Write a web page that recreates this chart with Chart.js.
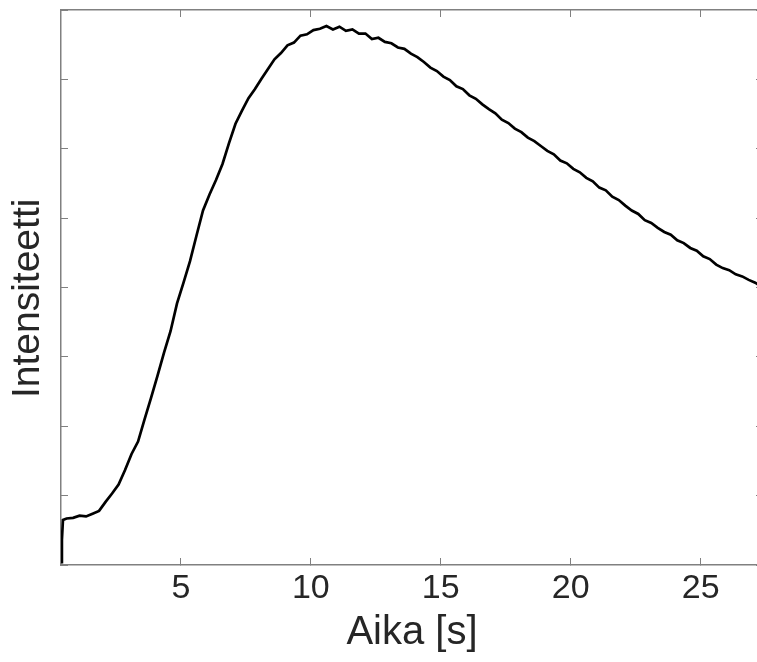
<!DOCTYPE html>
<html>
<head>
<meta charset="utf-8">
<script src="https://cdn.jsdelivr.net/npm/chart.js@4.4.0/dist/chart.umd.min.js"></script>
<style>
html, body { margin: 0; padding: 0; background: #fff; overflow: hidden; }
#wrap { width: 770px; height: 662px; }
</style>
</head>
<body>
<div id="wrap"><canvas id="chart" width="770" height="662"></canvas></div>
<script>
// ── DATA ──
const timeS = [
    0.385, 0.42, 0.46, 0.6, 0.85, 1.1, 1.35, 1.6, 1.85, 2.1, 2.35, 2.6, 2.85,
    3.1, 3.35, 3.6, 3.85, 4.1, 4.35, 4.6, 4.85, 5.1, 5.35, 5.6, 5.85,
    6.1, 6.35, 6.6, 6.85, 7.1, 7.35, 7.6, 7.85, 8.1, 8.35, 8.6, 8.85,
    9.1, 9.35, 9.6, 9.85, 10.1, 10.35, 10.6, 10.85, 11.1, 11.35, 11.6, 11.85,
    12.1, 12.35, 12.6, 12.85, 13.1, 13.35, 13.6, 13.85, 14.1, 14.35, 14.6, 14.85,
    15.1, 15.35, 15.6, 15.85, 16.1, 16.35, 16.6, 16.85, 17.1, 17.35, 17.6, 17.85,
    18.1, 18.35, 18.6, 18.85, 19.1, 19.35, 19.6, 19.85, 20.1, 20.35, 20.6, 20.85,
    21.1, 21.35, 21.6, 21.85, 22.1, 22.35, 22.6, 22.85, 23.1, 23.35, 23.6, 23.85,
    24.1, 24.35, 24.6, 24.85, 25.1, 25.35, 25.6, 25.85, 26.1, 26.35, 26.6, 26.85,
    27.1, 27.35
];
const intensity = [
    0.04, 0.36, 0.65, 0.67, 0.68, 0.71, 0.70, 0.74, 0.78, 0.91, 1.03, 1.16, 1.37,
    1.60, 1.78, 2.10, 2.41, 2.73, 3.06, 3.37, 3.77, 4.07, 4.38, 4.75, 5.11,
    5.34, 5.55, 5.78, 6.08, 6.36, 6.55, 6.73, 6.86, 7.01, 7.15, 7.29, 7.38,
    7.49, 7.53, 7.63, 7.65, 7.71, 7.73, 7.77, 7.72, 7.76, 7.70, 7.72, 7.66,
    7.66, 7.58, 7.60, 7.54, 7.52, 7.46, 7.44, 7.37, 7.32, 7.25, 7.17, 7.12,
    7.04, 6.99, 6.90, 6.86, 6.77, 6.72, 6.64, 6.57, 6.51, 6.42, 6.37, 6.29,
    6.24, 6.16, 6.11, 6.04, 5.97, 5.92, 5.83, 5.79, 5.71, 5.66, 5.58, 5.53,
    5.44, 5.40, 5.31, 5.26, 5.18, 5.11, 5.06, 4.97, 4.93, 4.86, 4.80, 4.76,
    4.68, 4.64, 4.57, 4.53, 4.45, 4.41, 4.33, 4.28, 4.25, 4.19, 4.16, 4.11,
    4.07, 4.01
];
const xTicks = [5, 10, 15, 20, 25];
const xRange = [0.385, 27.4];
const yRange = [0, 8];

const FONT = "'Liberation Sans', Arial, Helvetica, sans-serif";
const TEXT = "#262626";
const AXIS = "#808080";

const points = timeS.map((t, i) => ({ x: t, y: intensity[i] }));

// ── AXES ──
function fixedTicks(scale) {
    scale.ticks = xTicks.map(v => ({ value: v }));
}
const tickGrid = { drawOnChartArea: false, drawTicks: true, tickLength: -7, color: AXIS, lineWidth: 1 };
const frame    = { display: true, color: AXIS, width: 1.5 };

new Chart(document.getElementById("chart").getContext("2d"), {
    type: "line",
    data: {
        datasets: [{
            data: points,
            borderColor: "#000",
            borderWidth: 2.7,
            pointRadius: 0,
            tension: 0,
            fill: false
        }]
    },
    options: {
        responsive: false,
        devicePixelRatio: 1,
        animation: false,
        layout: { padding: { top: 10, right: 7, bottom: 0, left: 0 } },
        plugins: { legend: { display: false }, tooltip: { enabled: false } },
        scales: {
            x: {
                type: "linear", position: "bottom",
                min: xRange[0], max: xRange[1],
                afterBuildTicks: fixedTicks,
                afterFit: s => { s.height = 97; },
                ticks: { color: TEXT, font: { family: FONT, size: 34 }, padding: 10, maxRotation: 0 },
                grid: tickGrid, border: frame,
                title: { display: true, text: "Aika [s]", color: TEXT,
                         font: { family: FONT, size: 40 }, padding: { top: 0, bottom: 5 } }
            },
            x2: {
                type: "linear", position: "top",
                min: xRange[0], max: xRange[1],
                afterBuildTicks: fixedTicks,
                afterFit: s => { s.height = 0; },
                ticks: { display: false },
                grid: tickGrid, border: frame
            },
            y: {
                type: "linear", position: "left",
                min: yRange[0], max: yRange[1],
                afterFit: s => { s.width = 61; },
                ticks: { display: false, stepSize: 1 },
                grid: tickGrid, border: frame,
                title: { display: true, text: "Intensiteetti  ", color: TEXT,
                         font: { family: FONT, size: 39 }, padding: { top: 5, bottom: 0 } }
            },
            y2: {
                type: "linear", position: "right",
                min: yRange[0], max: yRange[1],
                afterFit: s => { s.width = 0; },
                ticks: { display: false, stepSize: 1 },
                grid: tickGrid, border: frame
            }
        }
    }
});
</script>
</body>
</html>
